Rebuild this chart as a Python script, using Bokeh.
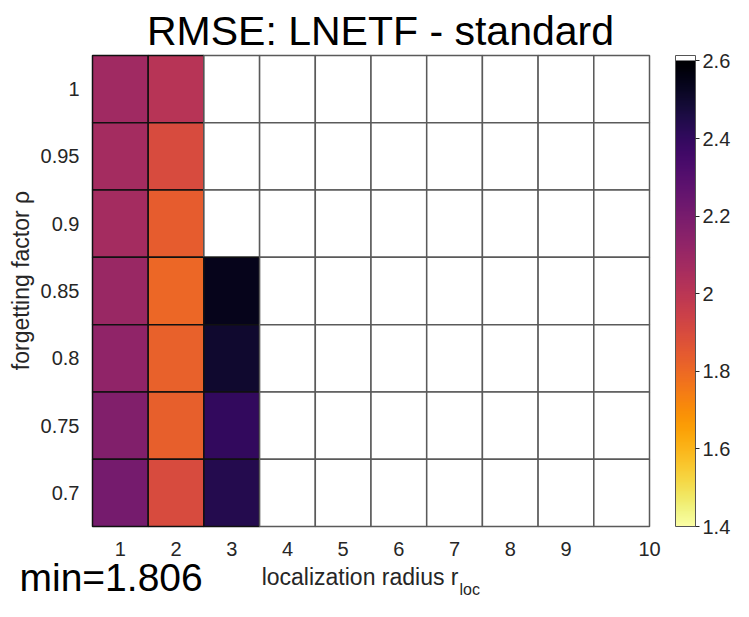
import numpy as np
from bokeh.plotting import figure
from bokeh.models import (ColumnDataSource, LinearColorMapper, ColorBar, FixedTicker,
                          Label, CustomJSTickFormatter, LinearAxis, Range1d)
from bokeh.palettes import Inferno256
from bokeh.embed import file_html
from bokeh.resources import INLINE

# ---- data ----
radius = [1, 2, 3, 4, 5, 6, 7, 8, 9, 10]
rho = [1.0, 0.95, 0.9, 0.85, 0.8, 0.75, 0.7]
nan = float("nan")
rmse_r1 = [2.08, 2.07, 2.07, 2.10, 2.13, 2.17, 2.21]
rmse_r2 = [2.01, 1.90, 1.84, 1.806, 1.826, 1.83, 1.90]
rmse_r3 = [nan, nan, nan, 2.54, 2.50, 2.40, 2.44]
rmse_other = [nan, nan, nan, nan, nan, nan, nan]  # radii 4..10: no result
rmse_by_radius = [rmse_r1, rmse_r2, rmse_r3] + [rmse_other] * 7
cbar_ticks = [1.4, 1.6, 1.8, 2.0, 2.2, 2.4, 2.6]
title_text = "RMSE: LNETF - standard"
min_text = "min=1.806"

xs, ys, vs, lcs = [], [], [], []
for r, col in zip(radius, rmse_by_radius):
    for rh, v in zip(rho, col):
        xs.append(r); ys.append(rh); vs.append(v)
        lcs.append("#5a5a5a" if np.isnan(v) else "#111111")
src = ColumnDataSource(dict(r=xs, rho=ys, v=vs, lc=lcs))

# reversed inferno 1.4..2.6 with a thin white strip on top
lo, hi = 1.4, 2.6
pal = list(reversed(Inferno256)) + ["#ffffff"] * 3
step = (hi - lo) / 256
mapper = LinearColorMapper(palette=pal, low=lo, high=hi + 3 * step, nan_color="#ffffff")

# ---- layout (pixels) ----
FONT = "Liberation Sans"
W, H = 733, 601
HM_L, HM_R, HM_T, HM_B = 92, 649, 55, 526      # heat-map box on canvas
x0, x1 = 0.5, 10.5
y0, y1 = 0.675, 1.025
ppx = (HM_R - HM_L) / (x1 - x0)
ppy = (HM_B - HM_T) / (y1 - y0)
xr = Range1d(x0 - HM_L / ppx, x1 + (W - HM_R) / ppx)
yr = Range1d(y0 - (H - HM_B) / ppy, y1 + HM_T / ppy)

p = figure(width=W, height=H, output_backend="svg", toolbar_location=None,
           x_range=xr, y_range=yr, min_border=0,
           x_axis_location=None, y_axis_location=None)
p.outline_line_color = None
p.grid.visible = False

p.rect(x="r", y="rho", width=1, height=0.05, source=src,
       fill_color={"field": "v", "transform": mapper},
       line_color="lc", line_width=1.5)

xt = [1, 2, 3, 4, 5, 6, 7, 8, 9, 10.5]
xax = LinearAxis(fixed_location=y0, ticker=FixedTicker(ticks=xt),
                 formatter=CustomJSTickFormatter(code="return tick > 9.9 ? '10' : String(tick)"))
yax = LinearAxis(fixed_location=x0, ticker=FixedTicker(ticks=rho),
                 formatter=CustomJSTickFormatter(code="return String(Math.round(tick*100)/100)"))
for ax in (xax, yax):
    ax.major_tick_line_color = None
    ax.minor_tick_line_color = None
    ax.axis_line_color = None
    ax.major_label_text_font = FONT
    ax.major_label_text_font_size = "20px"
    ax.major_label_text_color = "#262626"
xax.major_label_standoff = 9
yax.major_label_standoff = 7
p.add_layout(xax, "below")
p.add_layout(yax, "left")

cb = ColorBar(color_mapper=mapper, ticker=FixedTicker(ticks=cbar_ticks),
              formatter=CustomJSTickFormatter(code="return String(Math.round(tick*10)/10)"),
              width=20, height=HM_B - HM_T, padding=0, margin=0,
              location=(675, H - HM_B),
              label_standoff=3, major_label_text_font=FONT,
              major_label_text_font_size="20px", major_label_text_color="#262626",
              major_tick_line_color="#262626", major_tick_in=0, major_tick_out=4,
              bar_line_color="#555555", border_line_color=None,
              background_fill_color=None)
p.add_layout(cb, "center")

def lab(x, yc, text, size, align="left", color="#262626", angle=0):
    # yc: vertical centre of the text box, measured from the canvas top
    p.add_layout(Label(x=x, y=H - yc, x_units="screen", y_units="screen", text=text,
                       text_font=FONT, text_font_size=size, text_align=align,
                       text_baseline="middle", text_color=color, angle=angle))

lab(380, 30, title_text, "41px", align="center", color="black")
lab(19, 577, min_text, "39px", color="black")
lab(458, 576, "localization radius r", "23px", align="right")
lab(459, 589, "loc", "16px")
lab(20, 280, "forgetting factor \u03c1", "23px", align="center", angle=np.pi / 2)

open("out.html", "w").write(file_html(p, INLINE))
